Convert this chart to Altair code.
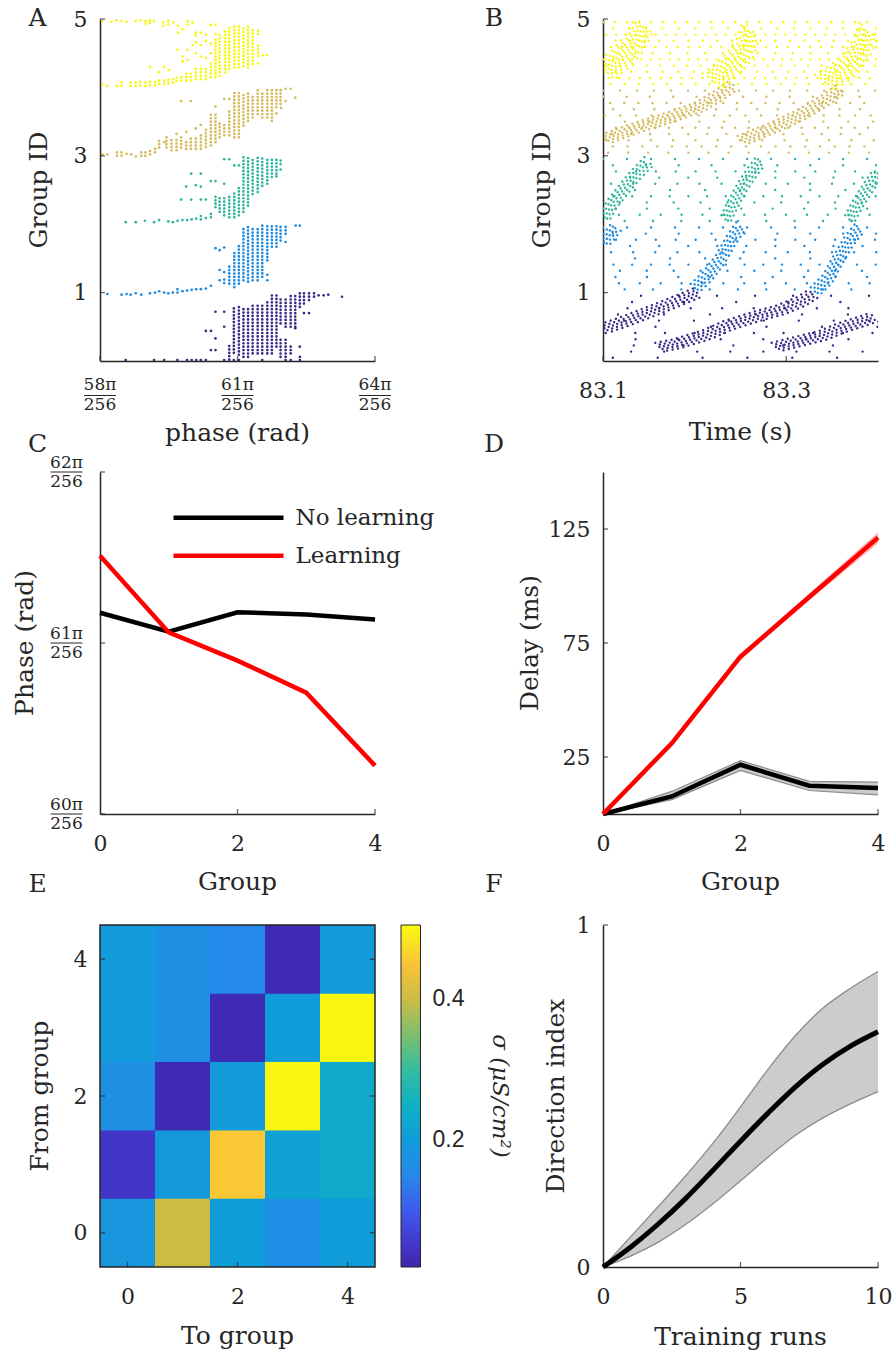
import altair as alt
import pandas as pd

# ===================== DATA =====================
GROUP_IDS = [0, 1, 2, 3, 4]
GROUP_COLORS = ["#352a87", "#1b8ae0", "#2cb59c", "#d5ba5a", "#f7f70d"]

# ---- Panel A: phase raster (phase in units of pi/256, y = group + neuron fraction)
A_XTICKS = [58, 61, 64]
A_YTICKS = [1, 3, 5]
# dense dot columns: (phase, lowest row, highest row)
A0_COLS = [(60.92, 0.12, 0.77), (61.03, 0.09, 0.79), (61.13, 0.06, 0.79), (61.23, 0.06, 0.79),
           (61.33, 0.11, 0.82), (61.44, 0.11, 0.84), (61.54, 0.11, 0.82), (61.65, 0.11, 0.89),
           (61.75, 0.11, 0.96), (61.85, 0.21, 0.96), (61.94, 0.55, 0.94), (61.94, 0.06, 0.31),
           (62.05, 0.50, 0.94), (62.05, 0.06, 0.31), (62.16, 0.50, 0.96), (62.16, 0.11, 0.23),
           (62.26, 0.50, 0.99), (62.36, 0.79, 0.99), (62.45, 0.84, 0.99), (62.56, 0.89, 0.99),
           (62.67, 0.94, 0.99), (60.82, 0.02, 0.25)]
A0_DOTS = [(62.77, 0.96), (62.88, 0.96), (62.98, 0.97), (63.28, 0.94), (60.52, 0.72), (60.71, 0.72),
           (60.31, 0.44), (60.42, 0.44), (60.52, 0.33), (60.42, 0.16), (60.52, 0.16), (62.36, 0.21),
           (62.45, 0.70), (62.56, 0.70), (62.26, 0.48), (62.36, 0.06), (60.71, 0.50),
           (58.56, 0.015), (59.18, 0.015), (59.40, 0.015), (59.69, 0.015), (59.90, 0.015),
           (60.00, 0.015), (60.10, 0.015), (60.20, 0.015), (60.31, 0.015), (60.71, 0.015),
           (60.92, 0.015), (61.03, 0.015), (61.54, 0.015), (62.05, 0.015), (62.16, 0.015), (62.36, 0.015)]
A1_COLS = [(60.82, 1.13, 1.42), (60.93, 1.08, 1.62), (61.03, 1.13, 1.69), (61.13, 1.18, 1.96),
           (61.23, 1.16, 1.96), (61.33, 1.18, 1.96), (61.44, 1.18, 1.96), (61.54, 1.23, 1.98),
           (61.65, 1.47, 1.98), (61.75, 1.67, 1.98), (61.85, 1.67, 1.98), (61.94, 1.76, 1.98),
           (62.05, 1.86, 1.98), (60.71, 1.14, 1.20), (60.31, 1.06, 1.09), (60.20, 1.05, 1.08),
           (60.10, 1.05, 1.08), (60.00, 1.04, 1.07), (59.90, 1.03, 1.06), (59.80, 1.02, 1.06),
           (59.69, 1.00, 1.05), (59.59, 1.00, 1.04), (59.49, 0.99, 1.02), (59.40, 1.00, 1.04),
           (59.09, 0.99, 1.02)]
A1_DOTS = [(58.16, 0.98), (58.47, 0.97), (58.58, 0.98), (58.67, 0.97), (58.78, 0.99), (58.90, 0.97),
           (59.20, 1.00), (59.29, 1.02), (60.52, 1.65), (60.61, 1.62), (60.71, 1.66), (60.61, 1.33),
           (60.61, 1.18), (62.27, 1.98), (62.36, 1.98), (62.05, 1.74), (61.65, 1.18), (61.65, 1.26),
           (60.42, 1.10), (60.71, 1.30)]
A2_COLS = [(61.13, 2.18, 2.98), (61.23, 2.27, 2.98), (61.33, 2.44, 2.98), (61.44, 2.47, 2.98),
           (61.54, 2.56, 2.98), (61.65, 2.59, 2.98), (61.75, 2.69, 2.98), (61.85, 2.74, 2.98),
           (61.94, 2.88, 2.95), (61.03, 2.13, 2.56), (60.93, 2.10, 2.49), (60.82, 2.10, 2.44),
           (60.71, 2.13, 2.42), (60.61, 2.18, 2.39), (60.52, 2.25, 2.44), (60.42, 2.10, 2.15),
           (60.31, 2.09, 2.13), (60.20, 2.07, 2.12), (60.10, 2.08, 2.11), (60.00, 2.07, 2.10),
           (59.90, 2.06, 2.10), (59.80, 2.06, 2.09), (59.69, 2.05, 2.08), (59.59, 2.03, 2.07),
           (59.49, 2.04, 2.08), (59.18, 2.03, 2.06), (58.78, 2.03, 2.06), (58.56, 2.03, 2.07)]
A2_DOTS = [(61.03, 2.86), (60.82, 2.95), (60.71, 2.95), (60.93, 2.86), (59.99, 2.74), (60.20, 2.74),
           (60.42, 2.63), (60.52, 2.63), (59.88, 2.55), (60.09, 2.57), (60.20, 2.55), (60.71, 2.59),
           (59.77, 2.36), (59.99, 2.36), (60.20, 2.36), (60.31, 2.36), (58.98, 2.05), (59.29, 2.06),
           (61.94, 2.80), (61.85, 2.70)]
A3_COLS = [(60.93, 3.27, 3.93), (61.03, 3.27, 3.93), (61.13, 3.44, 3.90), (61.23, 3.51, 3.93),
           (61.33, 3.56, 3.88), (61.44, 3.61, 3.97), (61.54, 3.56, 3.95), (61.65, 3.56, 3.98),
           (61.75, 3.51, 3.98), (61.85, 3.71, 4.00), (61.94, 3.76, 3.98), (60.82, 3.30, 3.66),
           (60.71, 3.30, 3.46), (60.61, 3.27, 3.49), (60.52, 3.20, 3.62), (60.42, 3.15, 3.56),
           (60.31, 3.13, 3.42), (60.20, 3.10, 3.32), (60.09, 3.10, 3.29), (59.98, 3.10, 3.27),
           (59.88, 3.10, 3.24), (59.77, 3.12, 3.27), (59.67, 3.08, 3.27), (59.56, 3.08, 3.25),
           (59.45, 3.12, 3.27), (59.29, 3.12, 3.25), (59.20, 3.05, 3.10), (59.09, 3.02, 3.10),
           (58.99, 3.00, 3.06), (58.90, 3.00, 3.05), (58.47, 3.00, 3.08), (58.37, 3.00, 3.06)]
A3_DOTS = [(58.05, 3.02), (58.16, 3.02), (58.58, 3.03), (58.68, 3.02), (58.78, 2.99), (59.40, 3.20),
           (59.77, 3.80), (59.98, 3.80), (60.71, 3.83), (60.82, 3.83), (62.05, 3.98), (62.05, 3.80),
           (62.16, 3.98), (62.26, 3.85), (60.52, 3.72), (60.42, 3.60), (60.09, 3.40), (60.20, 3.45),
           (59.88, 3.35), (59.67, 3.32), (61.95, 3.70), (61.85, 3.62)]
A4_COLS = [(60.73, 4.22, 4.83), (60.82, 4.27, 4.90), (60.93, 4.29, 4.90), (61.03, 4.29, 4.90),
           (61.13, 4.31, 4.90), (61.23, 4.29, 4.90), (61.33, 4.34, 4.87), (61.45, 4.78, 4.87),
           (61.45, 4.46, 4.63), (60.61, 4.17, 4.78), (60.52, 4.15, 4.73), (60.42, 4.15, 4.36),
           (60.31, 4.12, 4.30), (60.20, 4.12, 4.27), (60.09, 4.12, 4.27), (59.98, 4.10, 4.24),
           (59.88, 4.10, 4.22), (59.77, 4.10, 4.17), (59.67, 4.09, 4.14), (59.59, 4.07, 4.15),
           (59.49, 4.06, 4.13), (59.40, 4.05, 4.12), (59.29, 4.05, 4.10), (59.20, 4.03, 4.10),
           (59.09, 4.03, 4.09), (58.99, 4.02, 4.08), (58.88, 4.03, 4.08), (58.78, 4.02, 4.07),
           (58.67, 4.02, 4.07), (58.47, 4.02, 4.07), (58.37, 4.02, 4.06), (58.16, 4.02, 4.06)]
A4_DOTS = [(58.05, 4.97), (58.25, 4.96), (58.36, 4.98), (58.47, 4.97), (58.58, 4.96), (58.78, 4.97),
           (58.88, 4.98), (58.99, 4.97), (58.99, 4.93), (59.09, 4.98), (59.09, 4.94), (59.18, 4.97),
           (59.38, 4.95), (59.38, 4.90), (59.49, 4.97), (59.49, 4.92), (59.60, 4.95), (59.70, 4.90),
           (59.70, 4.80), (59.80, 4.85), (59.91, 4.97), (59.91, 4.92), (60.02, 4.95), (60.09, 4.80),
           (60.09, 4.76), (60.20, 4.80), (60.31, 4.77), (60.42, 4.91), (60.52, 4.92), (59.69, 4.55),
           (59.80, 4.45), (59.80, 4.38), (59.91, 4.55), (59.91, 4.40), (60.02, 4.62), (60.09, 4.50),
           (60.09, 4.66), (60.20, 4.62), (60.20, 4.45), (60.31, 4.68), (60.31, 4.43), (60.42, 4.50),
           (60.42, 4.64), (60.52, 4.78), (59.09, 4.30), (59.40, 4.30), (59.50, 4.25), (59.29, 4.22),
           (61.65, 4.47), (61.56, 4.47), (61.45, 4.35), (58.05, 4.04)]

# ---- Panel B: time raster (time in s)
B_XTICKS = [83.1, 83.3]
B_YTICKS = [1, 3, 5]
B_BG_GAP = [38, 24, 24, 17, 12]          # px between background spikes along a row, per group
B_STREAK_HALFWIDTH = [6, 8, 8, 8, 12]    # px half-thickness of the travelling bursts, per group
B0_S1 = [(83.100, 0.47), (83.126, 0.59), (83.159, 0.76), (83.185, 0.90), (83.203, 1.00)]
B0_S2 = [(83.160, 0.20), (83.180, 0.25), (83.214, 0.39), (83.236, 0.52), (83.257, 0.61),
         (83.272, 0.67), (83.294, 0.75), (83.316, 0.87), (83.330, 0.99)]
B0_S3 = [(83.287, 0.20), (83.323, 0.32), (83.341, 0.38), (83.359, 0.48), (83.396, 0.64)]
B1_S0 = [(83.100, 1.72), (83.108, 1.85), (83.115, 1.97)]
B1_S1 = [(83.199, 1.05), (83.214, 1.24), (83.228, 1.49), (83.239, 1.75), (83.250, 1.97)]
B1_S2 = [(83.330, 1.00), (83.345, 1.20), (83.355, 1.45), (83.368, 1.75), (83.381, 1.97)]
B2_S1 = [(83.101, 2.08), (83.110, 2.30), (83.122, 2.50), (83.134, 2.70), (83.150, 2.92)]
B2_S2 = [(83.233, 2.05), (83.242, 2.30), (83.252, 2.55), (83.262, 2.75), (83.272, 2.93)]
B2_S3 = [(83.368, 2.05), (83.378, 2.30), (83.390, 2.55), (83.400, 2.75)]
B3_S1 = [(83.101, 3.24), (83.141, 3.43), (83.177, 3.58), (83.206, 3.72), (83.228, 3.90), (83.243, 4.04)]
B3_S2 = [(83.250, 3.22), (83.287, 3.42), (83.316, 3.60), (83.341, 3.80), (83.359, 3.97)]
B4_S1 = [(83.101, 4.22), (83.119, 4.42), (83.134, 4.64), (83.145, 4.92)]
B4_S2 = [(83.218, 4.08), (83.239, 4.30), (83.254, 4.55), (83.262, 4.85)]
B4_S3 = [(83.341, 4.06), (83.367, 4.30), (83.381, 4.55), (83.390, 4.85)]

# ---- Panel C: phase per group (units of pi/256)
C_GROUPS = [0, 1, 2, 3, 4]
C_NOLEARN = [61.177, 61.066, 61.180, 61.167, 61.138]
C_LEARN = [61.510, 61.062, 60.897, 60.710, 60.283]
C_YTICKS = [60, 61, 62]

# ---- Panel D: delay per group (ms)
D_GROUPS = [0, 1, 2, 3, 4]
D_LEARN = [0, 31.0, 69.0, 95.2, 121.2]
D_LEARN_LO = [0, 30.2, 68.0, 93.7, 118.8]
D_LEARN_HI = [0, 31.8, 70.0, 96.7, 123.6]
D_NOLEARN = [0, 7.7, 21.6, 12.4, 11.4]
D_NOLEARN_LO = [0, 6.3, 19.1, 10.3, 8.4]
D_NOLEARN_HI = [0, 9.9, 23.4, 14.3, 14.0]

# ---- Panel E: conductance matrix, rows = from group 0..4, columns = to group 0..4
E_FROM0 = [0.185, 0.400, 0.205, 0.165, 0.200]
E_FROM1 = [0.050, 0.190, 0.455, 0.215, 0.230]
E_FROM2 = [0.170, 0.030, 0.195, 0.500, 0.230]
E_FROM3 = [0.195, 0.170, 0.030, 0.200, 0.500]
E_FROM4 = [0.195, 0.170, 0.155, 0.030, 0.195]
E_CLIM = [0.02, 0.505]

# ---- Panel F: direction index vs training runs
F_RUNS = [0, 1, 2, 3, 4, 5, 6, 7, 8, 9, 10]
F_MEAN = [0, 0.058, 0.125, 0.200, 0.283, 0.368, 0.450, 0.527, 0.593, 0.646, 0.688]
F_HI = [0, 0.088, 0.176, 0.266, 0.362, 0.468, 0.578, 0.677, 0.757, 0.815, 0.864]
F_LO = [0, 0.032, 0.072, 0.124, 0.185, 0.252, 0.321, 0.385, 0.436, 0.477, 0.513]

# ===================== STYLE =====================
W, H = 275, 342
FONT = "DejaVu Serif"
SANS = "Liberation Sans"
AX = "#262626"
TICK_FS = 22
TITLE_FS = 25
FRAC_FS = 17
PARULA = ["#3e26a8", "#4746eb", "#2a84ee", "#0f9dd8", "#10b6bf",
          "#4cc18c", "#bcbb47", "#f9bd3c", "#f9fb0e"]

gscale = alt.Scale(domain=GROUP_IDS, range=GROUP_COLORS)
gcolor = alt.Color("g:N", scale=gscale, legend=None)


def axis(values=None, labels=True, fmt=None, horizontal=True, domain=True):
    kw = dict(title=None, ticks=False, grid=False, domain=domain, labels=labels,
              domainColor=AX, domainWidth=1.5, labelColor=AX, labelFont=FONT,
              labelFontSize=TICK_FS, labelPadding=19 if horizontal else 13,
              labelFlush=False, labelOverlap=False)
    if values is not None:
        kw["values"] = values
    if fmt is not None:
        kw["format"] = fmt
    return alt.Axis(**kw)


def text_at(s, x, y, size=TITLE_FS, angle=None, font=FONT, align="center", italic=False):
    props = dict(font=font, fontSize=size, align=align, baseline="middle", color=AX)
    if angle is not None:
        props["angle"] = angle
    if italic:
        props["fontStyle"] = "italic"
    return alt.Chart(pd.DataFrame({"t": [s]})).mark_text(**props).encode(
        x=alt.value(x), y=alt.value(y), text="t:N")


def ticks_y(vals, scale, ax, xpix):
    return alt.Chart(pd.DataFrame({"v": vals})).mark_tick(
        orient="horizontal", size=5, thickness=1.3, color=AX).encode(
        y=alt.Y("v:Q", scale=scale, axis=ax), x=alt.value(xpix))


def ticks_x(vals, scale, ax, ypix):
    return alt.Chart(pd.DataFrame({"v": vals})).mark_tick(
        orient="vertical", size=5, thickness=1.3, color=AX).encode(
        x=alt.X("v:Q", scale=scale, axis=ax), y=alt.value(ypix))


def frac_df(vals):
    return pd.DataFrame({"v": vals, "num": [f"{v}π" for v in vals], "den": ["256"] * len(vals)})


def frac_x(vals, scale, ax):
    base = alt.Chart(frac_df(vals))
    xe = alt.X("v:Q", scale=scale, axis=ax)
    num = base.mark_text(font=FONT, fontSize=FRAC_FS, baseline="middle", color=AX).encode(
        x=xe, y=alt.value(H + 24), text="num:N")
    bar = base.mark_rule(color=AX, strokeWidth=1, xOffset=-16, x2Offset=16).encode(
        x=xe, x2="v:Q", y=alt.value(H + 34.5))
    den = base.mark_text(font=FONT, fontSize=FRAC_FS, baseline="middle", color=AX).encode(
        x=xe, y=alt.value(H + 44), text="den:N")
    return [num, bar, den]


def frac_y(vals, scale, ax):
    base = alt.Chart(frac_df(vals))
    ye = alt.Y("v:Q", scale=scale, axis=ax)
    num = base.mark_text(font=FONT, fontSize=FRAC_FS, baseline="middle", color=AX, dy=-9.5).encode(
        y=ye, x=alt.value(-33.5), text="num:N")
    bar = base.mark_rule(color=AX, strokeWidth=1).encode(
        y=ye, x=alt.value(-49.5), x2=alt.value(-17.5))
    den = base.mark_text(font=FONT, fontSize=FRAC_FS, baseline="middle", color=AX, dy=10).encode(
        y=ye, x=alt.value(-33.5), text="den:N")
    return [num, bar, den]


one_row = pd.DataFrame({"a": [0]})

# ===================== PANEL A =====================
A_xs = alt.Scale(domain=[58, 64], nice=False, zero=False)
A_ys = alt.Scale(domain=[0, 5], nice=False, zero=False)
A_ax = axis(labels=False)
A_ay = axis(values=A_YTICKS, fmt="d", horizontal=False)
A_cols_df = pd.concat([pd.DataFrame(c, columns=["x", "y0", "y1"]).assign(g=g)
                       for g, c in enumerate([A0_COLS, A1_COLS, A2_COLS, A3_COLS, A4_COLS])])
A_dots_df = pd.concat([pd.DataFrame(d, columns=["x", "y"]).assign(g=g)
                       for g, d in enumerate([A0_DOTS, A1_DOTS, A2_DOTS, A3_DOTS, A4_DOTS])])

a_cols = alt.Chart(A_cols_df).mark_rule(strokeDash=[0.01, 3.4], strokeCap="round", strokeWidth=2.7).encode(
    x=alt.X("x:Q", scale=A_xs, axis=A_ax),
    y=alt.Y("y0:Q", scale=A_ys, axis=A_ay),
    y2="y1:Q", color=gcolor)
a_dots = alt.Chart(A_dots_df).mark_circle(size=7, opacity=1).encode(
    x=alt.X("x:Q", scale=A_xs, axis=A_ax), y=alt.Y("y:Q", scale=A_ys, axis=A_ay), color=gcolor)
anchor = alt.Chart(one_row).mark_rule(strokeWidth=0.01, strokeOpacity=0).encode(
    x=alt.value(-99.5), x2=alt.value(-99.5), y=alt.value(-19), y2=alt.value(-19))
panelA = alt.layer(
    a_cols, a_dots, anchor,
    ticks_y(A_YTICKS, A_ys, A_ay, 2.5), ticks_x(A_XTICKS, A_xs, A_ax, H - 2.5),
    *frac_x(A_XTICKS, A_xs, A_ax),
    text_at("A", -62.5, -1.5), text_at("Group ID", -61.5, H / 2, angle=270),
    text_at("phase (rad)", W / 2, H + 72),
).properties(width=W, height=H)

# ===================== PANEL B =====================
B_xs = alt.Scale(domain=[83.1, 83.4], nice=False, zero=False)
B_ys = alt.Scale(domain=[0, 5], nice=False, zero=False)
B_ax = axis(values=B_XTICKS, fmt=".1f")
B_ay = axis(values=B_YTICKS, fmt="d", horizontal=False)
streak_list = [(0, B0_S1), (0, B0_S2), (0, B0_S3), (1, B1_S0), (1, B1_S1), (1, B1_S2),
               (2, B2_S1), (2, B2_S2), (2, B2_S3), (3, B3_S1), (3, B3_S2),
               (4, B4_S1), (4, B4_S2), (4, B4_S3)]
B_streak_df = pd.concat([pd.DataFrame(s, columns=["t", "y"]).assign(
    sid=k, g=g, i=list(range(len(s))), hw=B_STREAK_HALFWIDTH[g]) for k, (g, s) in enumerate(streak_list)])
B_bg_df = pd.DataFrame({"g": GROUP_IDS, "gap": B_BG_GAP})

b_layers = []
STREAK_OFFS = [0, -12, -9, -6, -3, 3, 6, 9, 12]
STREAK_GAP = [4.5, 7, 6, 5.5, 5, 5, 5.5, 6, 7]
STREAK_DOFF = [3, 0, 2, 4, 1, 2.5, 0.5, 3.5, 1.5]
for k, gp, doff in zip(STREAK_OFFS, STREAK_GAP, STREAK_DOFF):
    b_layers.append(
        alt.Chart(B_streak_df).transform_filter(f"datum.hw >= {abs(k)}").mark_line(
            strokeDash=[0.01, gp], strokeDashOffset=doff, strokeCap="round", strokeWidth=2.4,
            xOffset=0.7 * k, yOffset=0.7 * k, clip=True).encode(
            x=alt.X("t:Q", scale=B_xs, axis=B_ax), y=alt.Y("y:Q", scale=B_ys, axis=B_ay),
            detail="sid:N", order="i:Q", color=gcolor))

ROW_OFFS = [-31, -24.8, -18.6, -12.4, -6.2, 0, 6.2, 12.4, 18.6, 24.8, 31]
ROW_DASH_OFF = [0, 23, 7, 31, 14, 3, 27, 10, 19, 5, 35]
ROW_GAP_MULT = [1.0, 1.37, 0.83, 1.21, 0.92, 1.46, 0.78, 1.12, 1.31, 0.87, 1.18]
for r, (off, doff, mult) in enumerate(zip(ROW_OFFS, ROW_DASH_OFF, ROW_GAP_MULT)):
    dscale = alt.Scale(domain=GROUP_IDS, range=[[0.01, gp * mult] for gp in B_BG_GAP])
    b_layers.append(
        alt.Chart(B_bg_df).transform_calculate(yc="datum.g + 0.5").mark_rule(
            strokeCap="round", strokeWidth=2.4, yOffset=off, strokeDashOffset=doff, clip=True).encode(
            x=alt.value(0), x2=alt.value(W), y=alt.Y("yc:Q", scale=B_ys, axis=B_ay),
            color=gcolor, strokeDash=alt.StrokeDash("g:N", scale=dscale, legend=None)))

panelB = alt.layer(
    *b_layers,
    ticks_y(B_YTICKS, B_ys, B_ay, 2.5), ticks_x(B_XTICKS, B_xs, B_ax, H - 2.5),
    text_at("B", -109, -1.5), text_at("Group ID", -61.5, H / 2, angle=270),
    text_at("Time (s)", W / 2, H + 71),
).properties(width=W, height=H).resolve_scale(strokeDash="independent")

# ===================== PANEL C =====================
C_xs = alt.Scale(domain=[0, 4], nice=False, zero=False)
C_ys = alt.Scale(domain=[60, 62], nice=False, zero=False)
C_ax = axis(values=[0, 2, 4], fmt="d")
C_ay = axis(labels=False, horizontal=False)
C_df = pd.DataFrame({"g": C_GROUPS, "nl": C_NOLEARN, "l": C_LEARN})
c_nl = alt.Chart(C_df).mark_line(color="black", strokeWidth=4.5).encode(
    x=alt.X("g:Q", scale=C_xs, axis=C_ax), y=alt.Y("nl:Q", scale=C_ys, axis=C_ay))
c_l = alt.Chart(C_df).mark_line(color="#ff0000", strokeWidth=4.5).encode(
    x=alt.X("g:Q", scale=C_xs, axis=C_ax), y=alt.Y("l:Q", scale=C_ys, axis=C_ay))
c_leg1 = alt.Chart(one_row).mark_rule(color="black", strokeWidth=4.5).encode(
    x=alt.value(73.5), x2=alt.value(183.5), y=alt.value(45.7))
c_leg2 = alt.Chart(one_row).mark_rule(color="#ff0000", strokeWidth=4.5).encode(
    x=alt.value(73.5), x2=alt.value(183.5), y=alt.value(83.7))
panelC = alt.layer(
    c_nl, c_l, c_leg1, c_leg2,
    text_at("No learning", 195.5, 45.7, size=23, align="left"),
    text_at("Learning", 195.5, 83.7, size=23, align="left"),
    ticks_y(C_YTICKS, C_ys, C_ay, 2.5), ticks_x([2, 4], C_xs, C_ax, H - 2.5),
    *frac_y(C_YTICKS, C_ys, C_ay),
    text_at("C", -62.5, -28), text_at("Phase (rad)", -75.5, H / 2, angle=270),
    text_at("Group", W / 2, H + 68),
).properties(width=W, height=H)

# ===================== PANEL D =====================
D_xs = alt.Scale(domain=[0, 4], nice=False, zero=False)
D_ys = alt.Scale(domain=[0, 150], nice=False, zero=False)
D_ax = axis(values=[0, 2, 4], fmt="d")
D_ay = axis(values=[25, 75, 125], fmt="d", horizontal=False)
D_df = pd.DataFrame({"g": D_GROUPS, "l": D_LEARN, "llo": D_LEARN_LO, "lhi": D_LEARN_HI,
                     "n": D_NOLEARN, "nlo": D_NOLEARN_LO, "nhi": D_NOLEARN_HI})
dx = alt.X("g:Q", scale=D_xs, axis=D_ax)
d_base = alt.Chart(D_df)
d_nband = d_base.mark_area(color="#a0a0a0", opacity=0.55).encode(
    x=dx, y=alt.Y("nlo:Q", scale=D_ys, axis=D_ay), y2="nhi:Q")
d_nlo = d_base.mark_line(color="#8a8a8a", strokeWidth=1.2).encode(x=dx, y=alt.Y("nlo:Q", scale=D_ys, axis=D_ay))
d_nhi = d_base.mark_line(color="#8a8a8a", strokeWidth=1.2).encode(x=dx, y=alt.Y("nhi:Q", scale=D_ys, axis=D_ay))
d_n = d_base.mark_line(color="black", strokeWidth=4.5).encode(x=dx, y=alt.Y("n:Q", scale=D_ys, axis=D_ay))
d_lband = d_base.mark_area(color="#ff0000", opacity=0.3).encode(
    x=dx, y=alt.Y("llo:Q", scale=D_ys, axis=D_ay), y2="lhi:Q")
d_l = d_base.mark_line(color="#ff0000", strokeWidth=4.5).encode(x=dx, y=alt.Y("l:Q", scale=D_ys, axis=D_ay))
panelD = alt.layer(
    d_nband, d_nlo, d_nhi, d_n, d_lband, d_l,
    ticks_y([25, 75, 125], D_ys, D_ay, 2.5), ticks_x([2, 4], D_xs, D_ax, H - 2.5),
    text_at("D", -109, -28), text_at("Delay (ms)", -73, H / 2, angle=270),
    text_at("Group", W / 2, H + 68),
).properties(width=W, height=H)

# ===================== PANEL E =====================
E_rows = [E_FROM0, E_FROM1, E_FROM2, E_FROM3, E_FROM4]
E_df = pd.DataFrame([{"src": r, "dst": c, "val": v}
                     for r, row in enumerate(E_rows) for c, v in enumerate(row)])
E_xs = alt.Scale(domain=[-0.5, 4.5], nice=False, zero=False)
E_ys = alt.Scale(domain=[-0.5, 4.5], nice=False, zero=False)
E_ax = axis(values=[0, 2, 4], fmt="d", domain=False)
E_ay = axis(values=[0, 2, 4], fmt="d", domain=False, horizontal=False)
stops = [E_CLIM[0] + i * (E_CLIM[1] - E_CLIM[0]) / (len(PARULA) - 1) for i in range(len(PARULA))]
E_cscale = alt.Scale(domain=stops, range=PARULA, interpolate="rgb")
e_legend = alt.Legend(
    type="gradient", orient="none", legendX=301, legendY=0, direction="vertical",
    gradientLength=H, gradientThickness=19.5, gradientStrokeColor=AX, gradientStrokeWidth=1,
    values=[0.2, 0.4], format=".1f", labelFont=SANS, labelFontSize=23, labelColor=AX,
    labelOffset=12, title=None, padding=0)
# underlay (cells grown by a hair) hides anti-aliasing seams between neighbouring cells
e_under = alt.Chart(E_df).transform_calculate(
    x0="datum.dst - 0.52", x1="datum.dst + 0.52", y0="datum.src - 0.52", y1="datum.src + 0.52"
).mark_rect(clip=True).encode(
    x=alt.X("x0:Q", scale=E_xs, axis=E_ax), x2="x1:Q",
    y=alt.Y("y0:Q", scale=E_ys, axis=E_ay), y2="y1:Q",
    color=alt.Color("val:Q", scale=E_cscale, legend=e_legend))
e_heat = alt.Chart(E_df).transform_calculate(
    x0="datum.dst - 0.5", x1="datum.dst + 0.5", y0="datum.src - 0.5", y1="datum.src + 0.5"
).mark_rect().encode(
    x=alt.X("x0:Q", scale=E_xs, axis=E_ax), x2="x1:Q",
    y=alt.Y("y0:Q", scale=E_ys, axis=E_ay), y2="y1:Q",
    color=alt.Color("val:Q", scale=E_cscale, legend=e_legend))
e_box = alt.Chart(one_row).mark_rect(fillOpacity=0, stroke=AX, strokeWidth=1.5).encode(
    x=alt.value(0), x2=alt.value(W), y=alt.value(0), y2=alt.value(H))
panelE = alt.layer(
    e_under, e_heat, e_box,
    ticks_x([0, 2, 4], E_xs, E_ax, H - 2.5), ticks_y([0, 2, 4], E_ys, E_ay, 2.5),
    ticks_y([0, 2, 4], E_ys, E_ay, W - 2.5),
    text_at("σ (μS/cm²)", 399.5, H / 2, size=23, angle=90, italic=True),
    text_at("E", -62.5, -41), text_at("From group", -60, H / 2, angle=270),
    text_at("To group", W / 2, H + 69),
).properties(width=W, height=H)

# ===================== PANEL F =====================
F_xs = alt.Scale(domain=[0, 10], nice=False, zero=False)
F_ys = alt.Scale(domain=[0, 1], nice=False, zero=False)
F_ax = axis(values=[0, 5, 10], fmt="d")
F_ay = axis(values=[0, 1], fmt="d", horizontal=False)
F_df = pd.DataFrame({"r": F_RUNS, "m": F_MEAN, "lo": F_LO, "hi": F_HI})
fx = alt.X("r:Q", scale=F_xs, axis=F_ax)
f_band = alt.Chart(F_df).mark_area(color="#cccccc", opacity=1, interpolate="monotone").encode(
    x=fx, y=alt.Y("lo:Q", scale=F_ys, axis=F_ay), y2="hi:Q")
f_lo = alt.Chart(F_df).mark_line(color="#8c8c8c", strokeWidth=1.3, interpolate="monotone").encode(
    x=fx, y=alt.Y("lo:Q", scale=F_ys, axis=F_ay))
f_hi = alt.Chart(F_df).mark_line(color="#8c8c8c", strokeWidth=1.3, interpolate="monotone").encode(
    x=fx, y=alt.Y("hi:Q", scale=F_ys, axis=F_ay))
f_m = alt.Chart(F_df).mark_line(color="black", strokeWidth=5, interpolate="monotone").encode(
    x=fx, y=alt.Y("m:Q", scale=F_ys, axis=F_ay))
panelF = alt.layer(
    f_band, f_lo, f_hi, f_m,
    ticks_y([1], F_ys, F_ay, 2.5), ticks_x([5, 10], F_xs, F_ax, H - 2.5),
    text_at("F", -109, -41), text_at("Direction index", -47, H / 2, angle=270),
    text_at("Training runs", W / 2, H + 70),
).properties(width=W, height=H)

# ===================== FIGURE =====================
chart = alt.concat(
    panelA, panelB, panelC, panelD, panelE, panelF,
    columns=2, spacing={"row": 111, "column": 228}, bounds="flush",
).resolve_scale(
    color="independent", strokeDash="independent"
).properties(
    padding=0, background="white"
).configure_view(stroke=None)

chart.save("out.html", embed_options={"renderer": "svg", "actions": False})
